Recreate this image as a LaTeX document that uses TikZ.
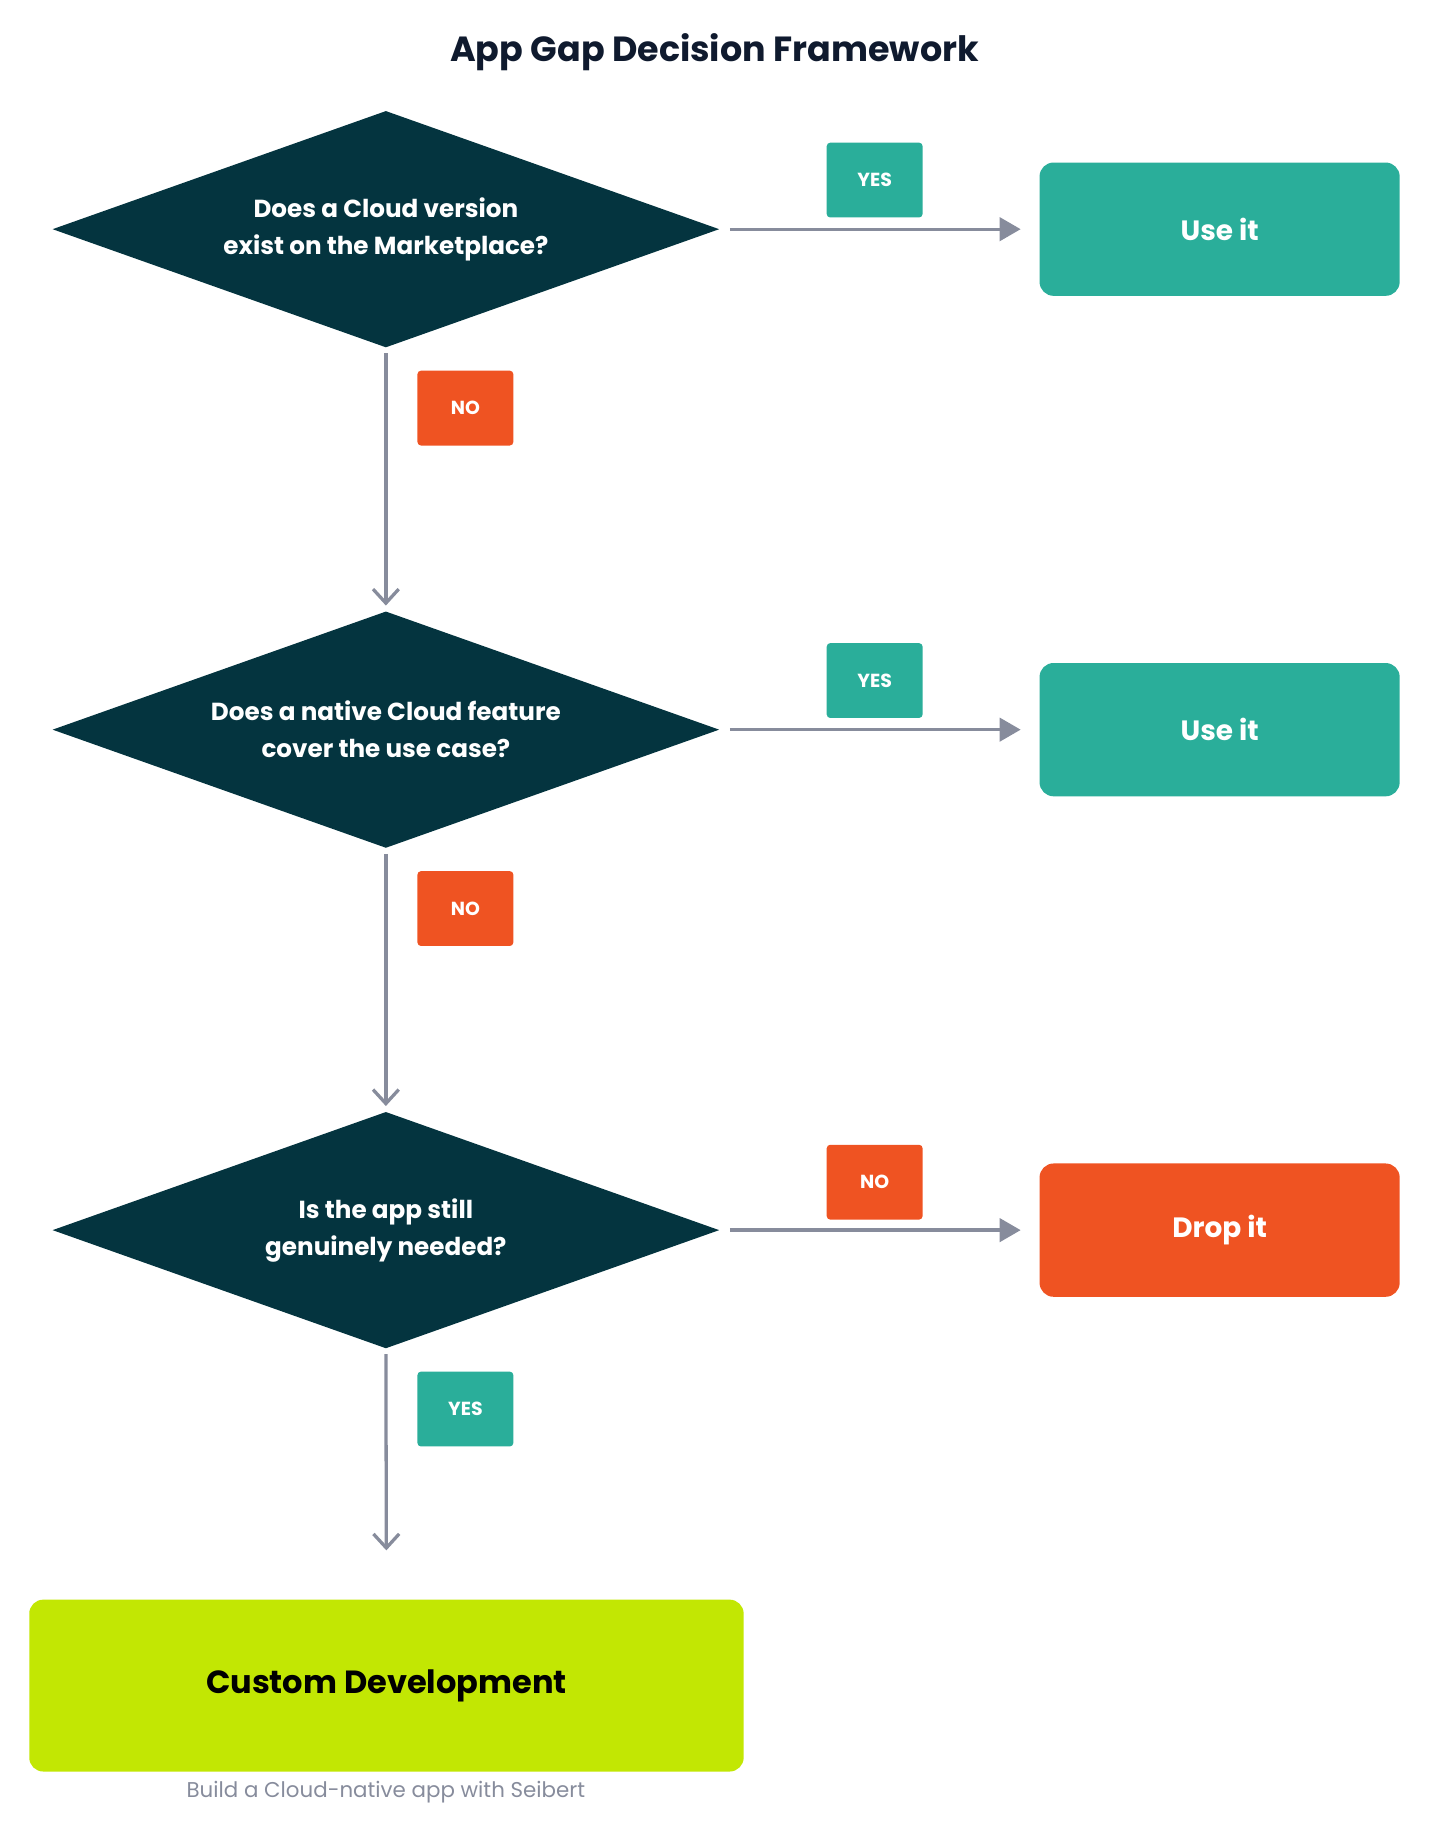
\documentclass[tikz,border=0pt]{standalone}
\usepackage{fontspec}
\setmainfont{Poppins}
\usetikzlibrary{arrows.meta}
\definecolor{dk}{HTML}{04343F}
\definecolor{tl}{HTML}{2AAE9A}
\definecolor{org}{HTML}{EF5322}
\definecolor{lime}{HTML}{C2E703}
\definecolor{gr}{HTML}{878C9C}
\definecolor{ttl}{HTML}{0F1A2E}
\begin{document}
\begin{tikzpicture}[x=0.05cm,y=-0.05cm,
 dia/.style={minimum width=28.5cm,minimum height=10.1cm,inner sep=0,text=white,font=\fontsize{30}{45}\selectfont\bfseries,align=center},
 box/.style={rounded corners=0.6cm,minimum width=15.4cm,minimum height=5.7cm,text=white,font=\fontsize{34}{40}\selectfont\bfseries},
 lab/.style={rounded corners=0.15cm,minimum width=4.1cm,minimum height=3.2cm,text=white,font=\fontsize{23}{28}\selectfont\bfseries},
 rarr/.style={gr,line width=4pt,-{Triangle[length=0.9cm,width=1cm]},shorten <=0.45cm,shorten >=0.8cm},
 darr/.style={gr,line width=4pt,-{Straight Barb[length=0.6cm,width=1.1cm,line width=4pt]},shorten <=0.25cm}]
\useasboundingbox (0,0) rectangle (1223,1571);
\node[text=ttl,font=\fontsize{42.5}{48}\selectfont\bfseries] (title) at (611,45) {App Gap Decision Framework};
\foreach \y in {196,624,1052}{\fill[dk] (45,\y) -- (330,\y-101) -- (615,\y) -- (330,\y+101) -- cycle;}
\node[dia] (d1) at (330,196) {Does a Cloud version\\exist on the Marketplace?};
\node[dia] (d2) at (330,624) {Does a native Cloud feature\\cover the use case?};
\node[dia] (d3) at (330,1052) {Is the app still\\genuinely needed?};
\node[box,fill=tl] (b1) at (1043,196) {Use it};
\node[box,fill=tl] (b2) at (1043,624) {Use it};
\node[box,fill=org] (b3) at (1043,1052) {Drop it};
\node[rounded corners=0.6cm,fill=lime,minimum width=30.55cm,minimum height=7.35cm,font=\fontsize{39}{46}\selectfont\bfseries] (cd) at (330.5,1441.5) {Custom Development};
\node[text=gr,font=\fontsize{26}{30}\selectfont] (sub) at (330,1533) {Build a Cloud-native app with Seibert};
\node[lab,fill=tl] (l1) at (748,154) {YES};
\node[lab,fill=tl] (l2) at (748,582) {YES};
\node[lab,fill=org] (l3) at (748,1011) {NO};
\node[lab,fill=org] (n1) at (398,349) {NO};
\node[lab,fill=org] (n2) at (398,777) {NO};
\node[lab,fill=tl] (n3) at (398,1205) {YES};
\draw[rarr] (d1.east) -- (b1.west);
\draw[rarr] (d2.east) -- (b2.west);
\draw[rarr] (d3.east) -- (b3.west);
\draw[darr,shorten >=0.25cm] (d1.south) -- (d2.north);
\draw[darr,shorten >=0.25cm] (d2.south) -- (d3.north);
\draw[darr,shorten >=2.1cm] (d3.south) -- (cd.north);
\end{tikzpicture}
\end{document}
